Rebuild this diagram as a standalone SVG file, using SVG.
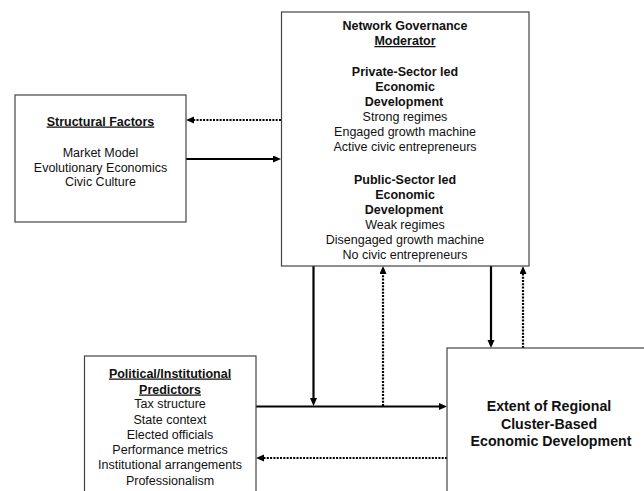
<svg xmlns="http://www.w3.org/2000/svg" width="644" height="491" viewBox="0 0 644 491">
<defs>
<style>
.box{fill:#fff;stroke:#444;stroke-width:1.2}
text{font-family:"Liberation Sans",Arial,sans-serif;font-size:12.5px;fill:#111;text-anchor:middle}
.b{font-weight:bold}
.u{text-decoration:underline}
.big{font-size:14.2px;font-weight:bold}
.solid{stroke:#000;stroke-width:2.2;fill:none;marker-end:url(#ah)}
.dot{stroke:#000;stroke-width:2.2;fill:none;stroke-dasharray:2,1.3;marker-end:url(#ah)}
</style>
<marker id="ah" markerUnits="userSpaceOnUse" markerWidth="10" markerHeight="10" refX="5" refY="3.5" orient="auto">
<path d="M0,0 L8,3.5 L0,7 z" fill="#000"/>
</marker>
</defs>
<g id="connectors">
<line class="dot" x1="281" y1="120" x2="189" y2="120"/>
<line class="solid" x1="186" y1="159" x2="278" y2="159"/>
<line class="solid" x1="313.5" y1="266" x2="313.5" y2="403"/>
<line class="dot" x1="383" y1="406" x2="383" y2="269"/>
<line class="solid" x1="491" y1="266" x2="491" y2="345"/>
<line class="dot" x1="523" y1="348" x2="523" y2="269"/>
<line class="solid" x1="256" y1="406.5" x2="444" y2="406.5"/>
<line class="dot" x1="447" y1="458" x2="259" y2="458"/>
</g>
<g id="structural">
<rect class="box" x="15" y="95" width="171" height="127"/>
<text x="100.5" y="125.5" class="b u">Structural Factors</text>
<text x="100.5" y="157">Market Model</text>
<text x="100.5" y="171.5">Evolutionary Economics</text>
<text x="100.5" y="186">Civic Culture</text>
</g>
<g id="network">
<rect class="box" x="281.5" y="12" width="247.5" height="254"/>
<text x="405" y="30" class="b">Network Governance</text>
<text x="405" y="45" class="b u">Moderator</text>
<text x="405" y="75.5" class="b">Private-Sector led</text>
<text x="405" y="90.5" class="b">Economic</text>
<text x="404" y="105.5" class="b">Development</text>
<text x="405" y="121">Strong regimes</text>
<text x="405" y="136">Engaged growth machine</text>
<text x="405" y="151">Active civic entrepreneurs</text>
<text x="405" y="184" class="b">Public-Sector led</text>
<text x="405" y="198.5" class="b">Economic</text>
<text x="404" y="213.5" class="b">Development</text>
<text x="405" y="228.5">Weak regimes</text>
<text x="405" y="243.5">Disengaged growth machine</text>
<text x="405" y="259">No civic entrepreneurs</text>
</g>
<g id="political">
<rect class="box" x="84.5" y="356" width="171.5" height="150"/>
<text x="170" y="377.5" class="b u">Political/Institutional</text>
<text x="170" y="393.5" class="b u">Predictors</text>
<text x="170" y="408">Tax structure</text>
<text x="170" y="423.5">State context</text>
<text x="170" y="439">Elected officials</text>
<text x="170" y="454">Performance metrics</text>
<text x="170" y="469">Institutional arrangements</text>
<text x="170" y="484.5">Professionalism</text>
</g>
<g id="extent">
<rect class="box" x="447" y="348" width="210" height="160"/>
<text x="549" y="410.5" class="big">Extent of Regional</text>
<text x="549" y="428.5" class="big">Cluster-Based</text>
<text x="551" y="446" class="big">Economic Development</text>
</g>
</svg>
